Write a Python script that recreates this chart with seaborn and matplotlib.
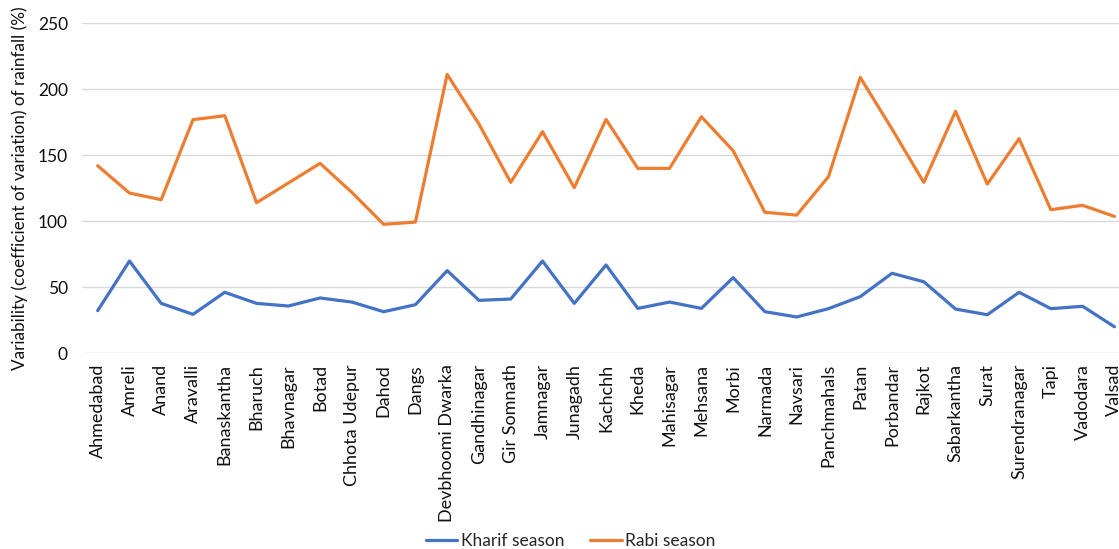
import matplotlib
matplotlib.use("Agg")
import matplotlib.pyplot as plt
import seaborn as sns
import pandas as pd

districts = [
    "Ahmedabad", "Amreli", "Anand", "Aravalli", "Banaskantha", "Bharuch",
    "Bhavnagar", "Botad", "Chhota Udepur", "Dahod", "Dangs", "Devbhoomi Dwarka",
    "Gandhinagar", "Gir Somnath", "Jamnagar", "Junagadh", "Kachchh", "Kheda",
    "Mahisagar", "Mehsana", "Morbi", "Narmada", "Navsari", "Panchmahals",
    "Patan", "Porbandar", "Rajkot", "Sabarkantha", "Surat", "Surendranagar",
    "Tapi", "Vadodara", "Valsad",
]
kharif = [32.1, 69.7, 37.6, 29.3, 46.0, 37.6, 35.6, 41.7, 38.6, 31.3, 36.6, 62.4,
          39.9, 40.9, 69.7, 37.6, 66.7, 33.8, 38.6, 33.8, 57.1, 31.3, 27.3, 33.6,
          42.7, 60.4, 54.0, 33.3, 29.0, 46.0, 33.6, 35.4, 19.9]
rabi = [141.9, 121.2, 116.2, 176.8, 179.8, 113.9, 128.8, 143.7, 121.7, 97.5, 99.2, 211.1,
        173.5, 129.3, 167.7, 125.3, 177.0, 139.9, 139.9, 179.0, 153.3, 106.6, 104.5, 133.6,
        208.8, 169.7, 129.3, 183.1, 128.0, 162.4, 108.6, 111.9, 103.5]
season_names = ["Kharif season", "Rabi season"]
season_colors = ["#4472C4", "#ED7D31"]

df = pd.DataFrame({
    "district": districts * 2,
    "cv": kharif + rabi,
    "season": [season_names[0]] * len(districts) + [season_names[1]] * len(districts),
})
df["pos"] = list(range(len(districts))) * 2

sns.set_theme(style="white")
plt.rcParams["font.family"] = ["Lato", "DejaVu Sans"]

fig = plt.figure(figsize=(11.19, 5.49), dpi=100)
ax = fig.add_axes([0.0731, 0.357, 0.937, 0.601])

sns.lineplot(data=df, x="pos", y="cv", hue="season", palette=season_colors,
             linewidth=2.3, sort=False, ax=ax, legend=True)

ax.set_xlim(-0.5, len(districts) - 0.5)
ax.set_ylim(0, 250)
ax.set_yticks([0, 50, 100, 150, 200, 250])
ax.set_xticks(range(len(districts)))
ax.set_xticklabels(districts, rotation=90, fontsize=13, color="#111111")
ax.tick_params(axis="y", labelsize=12.5, colors="#111111", length=0, pad=10)
ax.tick_params(axis="x", length=0, pad=8)
ax.grid(axis="y", color="#D9D9D9", linewidth=1)
ax.set_axisbelow(True)
for s in ax.spines.values():
    s.set_visible(False)
ax.set_xlabel("")
ax.set_ylabel("Variability (coefficient of variation) of rainfall (%)", fontsize=12.3,
              color="#111111", labelpad=7)

handles, labels = ax.get_legend_handles_labels()
ax.get_legend().remove()
fig.legend(handles, labels, loc="lower center", ncol=2, frameon=False,
           bbox_to_anchor=(0.51, -0.028), fontsize=12.5, handlelength=1.8,
           handletextpad=0.2, columnspacing=1.5)

fig.savefig("out.png", dpi=100)
